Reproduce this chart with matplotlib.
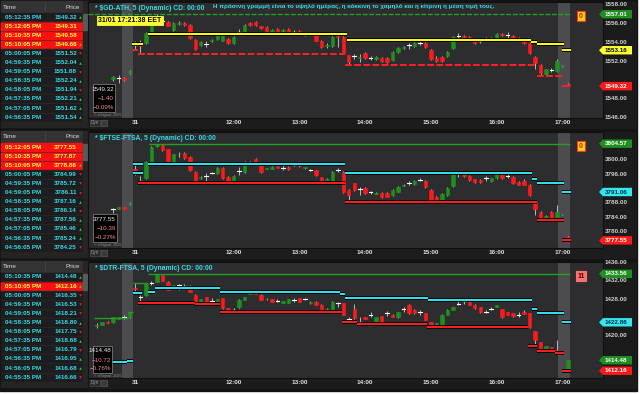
import matplotlib
matplotlib.use("Agg")
import matplotlib.pyplot as plt
from matplotlib.patches import Rectangle, Polygon
import matplotlib.patheffects as pe

W, H = 640, 394
plt.rcParams['font.family'] = ['Liberation Sans Narrow', 'Liberation Sans', 'DejaVu Sans']

# ---------------- data ----------------
# bar index 0 = 10:30 on the 31st, 5 minute bars; negative = previous session
time_ticks = [0, 18, 30, 42, 54, 66, 78]
time_labels = ["31", "12:00", "13:00", "14:00", "15:00", "16:00", "17:00"]

# (open, high, low, close)
gd_start = -4
gd_bars = [
    (1550.1, 1550.4, 1549.9, 1550.3), (1550.2, 1550.5, 1549.7, 1550.2), (1550.2, 1550.3, 1549.9, 1550.0),
    (1550.7, 1551.0, 1550.6, 1550.9), (1553.7, 1554.1, 1553.2, 1553.7), (1553.8, 1554.3, 1552.8, 1553.6),
    (1553.9, 1555.1, 1553.8, 1555.0), (1555.1, 1556.5, 1555.0, 1556.3), (1556.4, 1557.0, 1556.3, 1556.7),
    (1556.3, 1556.6, 1556.0, 1556.3), (1556.2, 1556.3, 1555.7, 1555.8), (1555.3, 1556.2, 1555.2, 1556.1),
    (1556.0, 1556.3, 1555.9, 1556.1), (1556.1, 1556.2, 1555.8, 1555.9), (1555.9, 1556.0, 1554.4, 1554.5),
    (1554.3, 1554.4, 1553.2, 1553.3), (1553.7, 1554.1, 1553.6, 1554.0), (1553.8, 1554.1, 1553.5, 1553.8),
    (1554.1, 1554.4, 1554.0, 1554.3), (1554.4, 1554.9, 1554.3, 1554.8), (1554.2, 1555.0, 1554.1, 1555.0),
    (1554.4, 1554.5, 1553.8, 1553.9), (1553.9, 1554.7, 1553.8, 1554.6), (1555.1, 1555.4, 1554.9, 1555.1),
    (1555.0, 1556.0, 1554.9, 1555.9), (1556.1, 1556.2, 1555.8, 1555.9), (1556.2, 1556.3, 1555.8, 1555.9),
    (1555.7, 1555.8, 1555.4, 1555.5), (1555.6, 1555.7, 1555.0, 1555.1), (1555.1, 1555.4, 1555.0, 1555.3),
    (1555.4, 1555.5, 1555.0, 1555.1), (1555.2, 1555.4, 1555.1, 1555.3), (1555.4, 1555.5, 1555.0, 1555.1),
    (1555.1, 1555.3, 1554.9, 1555.1), (1555.2, 1555.3, 1554.8, 1554.9), (1554.8, 1555.1, 1554.7, 1555.0),
    (1554.9, 1555.1, 1554.8, 1554.9), (1554.8, 1554.9, 1554.1, 1554.2), (1554.2, 1554.3, 1553.4, 1553.5),
    (1553.6, 1553.9, 1553.4, 1553.7), (1553.6, 1554.7, 1553.5, 1554.6), (1554.7, 1554.8, 1553.5, 1554.6),
    (1554.6, 1554.7, 1552.8, 1552.9), (1552.6, 1552.7, 1551.6, 1551.9), (1552.5, 1552.8, 1552.2, 1552.5),
    (1552.3, 1552.8, 1551.9, 1552.4), (1552.9, 1553.0, 1552.2, 1552.3), (1552.3, 1552.5, 1552.1, 1552.3),
    (1552.2, 1552.5, 1552.1, 1552.4), (1552.3, 1552.4, 1551.9, 1552.0), (1552.3, 1552.4, 1551.8, 1551.9),
    (1552.1, 1553.1, 1552.0, 1553.0), (1553.0, 1553.5, 1552.9, 1553.4), (1553.4, 1553.6, 1553.3, 1553.5),
    (1553.7, 1553.9, 1553.3, 1553.7), (1553.6, 1554.0, 1553.5, 1553.9), (1553.9, 1554.1, 1553.7, 1553.9),
    (1553.9, 1554.0, 1553.4, 1553.5), (1553.2, 1553.3, 1552.1, 1552.2), (1552.3, 1552.5, 1551.9, 1552.0),
    (1552.4, 1552.5, 1551.9, 1552.0), (1552.5, 1553.1, 1552.4, 1553.0), (1553.4, 1554.7, 1553.3, 1554.6),
    (1554.7, 1555.0, 1554.5, 1554.7), (1554.7, 1554.8, 1554.5, 1554.6), (1554.6, 1554.7, 1554.1, 1554.2),
    (1554.1, 1554.2, 1553.8, 1553.9), (1554.1, 1554.3, 1553.9, 1554.1), (1554.4, 1554.6, 1554.2, 1554.4),
    (1554.2, 1554.6, 1554.1, 1554.5), (1554.5, 1555.0, 1554.4, 1554.9), (1554.9, 1555.0, 1554.7, 1554.8),
    (1554.8, 1555.1, 1554.5, 1554.8), (1554.7, 1554.8, 1554.1, 1554.2), (1554.5, 1554.6, 1554.2, 1554.3),
    (1554.4, 1554.5, 1553.8, 1553.9), (1553.9, 1554.0, 1552.8, 1552.9), (1552.4, 1552.5, 1551.1, 1551.8),
    (1551.6, 1551.7, 1550.5, 1550.7), (1550.6, 1551.2, 1550.5, 1551.1), (1551.0, 1551.3, 1550.8, 1551.0),
    (1550.9, 1552.2, 1550.8, 1552.0), (1551.45, 1551.6, 1551.4, 1551.55), (1549.6, 1549.65, 1549.3, 1549.32),
]

ftse_start = -4
ftse_bars = [
    (3786.3, 3786.6, 3785.2, 3786.3), (3786.4, 3787.0, 3786.2, 3786.9), (3786.9, 3787.0, 3786.2, 3786.4),
    (3787.6, 3788.4, 3787.4, 3788.1), (3797.5, 3799.0, 3795.8, 3796.5), (3794.5, 3795.5, 3793.5, 3794.3),
    (3795.0, 3799.6, 3794.8, 3799.4), (3799.4, 3804.0, 3799.2, 3803.6), (3803.9, 3804.57, 3803.7, 3804.3),
    (3804.3, 3804.5, 3802.6, 3802.8), (3803.0, 3803.2, 3799.2, 3799.4), (3799.4, 3801.8, 3799.2, 3801.6),
    (3801.6, 3802.2, 3800.8, 3801.8), (3801.9, 3802.1, 3800.4, 3800.6), (3800.8, 3801.0, 3797.0, 3797.2),
    (3796.6, 3796.8, 3793.7, 3793.9), (3795.0, 3795.5, 3794.8, 3795.3), (3795.5, 3796.4, 3794.0, 3795.5),
    (3796.4, 3796.6, 3796.2, 3796.4), (3796.4, 3798.0, 3796.2, 3797.8), (3797.9, 3798.1, 3794.8, 3795.0),
    (3795.2, 3795.4, 3793.7, 3793.9), (3793.7, 3795.7, 3793.6, 3795.5), (3797.0, 3798.0, 3795.8, 3797.0),
    (3796.6, 3799.6, 3796.4, 3799.4), (3799.2, 3799.7, 3798.8, 3799.2), (3800.3, 3800.5, 3798.7, 3798.9),
    (3798.6, 3798.8, 3796.5, 3796.7), (3797.6, 3797.9, 3797.4, 3797.8), (3797.5, 3798.3, 3797.4, 3798.1),
    (3798.2, 3798.3, 3797.7, 3797.9), (3797.9, 3798.5, 3797.2, 3797.9), (3798.1, 3798.2, 3797.3, 3797.5),
    (3798.6, 3798.8, 3798.4, 3798.6), (3798.9, 3799.2, 3798.0, 3798.2), (3797.8, 3798.1, 3797.6, 3798.0),
    (3797.3, 3797.6, 3796.8, 3797.3), (3797.2, 3797.3, 3795.6, 3795.8), (3795.2, 3795.3, 3794.2, 3794.4),
    (3794.5, 3794.9, 3794.3, 3794.8), (3793.9, 3796.8, 3793.8, 3796.6), (3797.2, 3797.8, 3796.6, 3797.2),
    (3796.6, 3796.8, 3790.9, 3791.1), (3791.6, 3791.8, 3788.3, 3790.2), (3793.5, 3793.7, 3791.4, 3791.6),
    (3791.8, 3792.5, 3790.2, 3791.8), (3792.2, 3792.4, 3790.6, 3790.8), (3791.0, 3791.4, 3790.4, 3791.0),
    (3790.6, 3791.0, 3790.4, 3790.9), (3790.8, 3791.0, 3789.5, 3789.7), (3790.8, 3791.0, 3789.6, 3789.8),
    (3790.2, 3791.8, 3790.0, 3791.6), (3791.1, 3792.7, 3791.0, 3792.5), (3792.8, 3793.3, 3792.6, 3793.1),
    (3793.5, 3794.0, 3793.0, 3793.5), (3793.3, 3794.3, 3793.1, 3794.1), (3794.5, 3795.0, 3794.0, 3794.5),
    (3794.1, 3794.3, 3792.3, 3792.5), (3791.6, 3791.8, 3788.1, 3788.3), (3789.7, 3789.9, 3788.4, 3788.6),
    (3788.3, 3790.7, 3788.1, 3790.5), (3790.2, 3792.4, 3790.0, 3792.2), (3792.7, 3796.6, 3792.5, 3796.4),
    (3796.4, 3796.9, 3795.2, 3796.4), (3796.0, 3796.2, 3795.3, 3795.5), (3795.5, 3795.7, 3794.2, 3794.4),
    (3794.6, 3794.8, 3793.7, 3793.9), (3794.4, 3794.6, 3793.7, 3793.9), (3795.0, 3795.5, 3794.0, 3795.0),
    (3794.0, 3795.1, 3793.8, 3794.9), (3795.0, 3796.8, 3794.8, 3796.6), (3796.4, 3796.6, 3794.8, 3795.0),
    (3795.5, 3796.2, 3795.0, 3795.5), (3795.2, 3795.4, 3793.3, 3793.5), (3793.8, 3794.0, 3792.9, 3793.1),
    (3794.0, 3794.6, 3792.9, 3793.1), (3793.0, 3793.2, 3790.0, 3790.2), (3788.3, 3788.5, 3784.6, 3786.3),
    (3785.5, 3785.7, 3783.15, 3783.2), (3783.3, 3784.6, 3783.15, 3784.4), (3785.5, 3785.7, 3783.6, 3783.8),
    (3783.5, 3787.4, 3783.3, 3785.5), (3784.8, 3785.0, 3784.7, 3784.95), (3778.6, 3778.7, 3777.5, 3777.55),
]

dtr_start = -7
dtr_bars = [
    (1422.0, 1422.6, 1421.7, 1422.3), (1422.3, 1423.0, 1422.2, 1422.9), (1423.0, 1423.1, 1422.6, 1422.8),
    (1422.9, 1424.1, 1422.8, 1424.0), (1423.6, 1424.1, 1423.5, 1424.0), (1424.1, 1424.4, 1423.6, 1424.1),
    (1424.0, 1425.2, 1423.9, 1425.1), (1430.5, 1431.5, 1429.3, 1430.3), (1428.5, 1428.9, 1427.1, 1428.5),
    (1428.8, 1431.6, 1428.7, 1431.4), (1431.6, 1432.0, 1431.1, 1431.6), (1431.8, 1433.56, 1431.7, 1433.3),
    (1433.3, 1433.4, 1431.9, 1432.0), (1431.8, 1431.9, 1429.9, 1430.0), (1430.8, 1431.2, 1430.7, 1431.1),
    (1431.0, 1431.3, 1430.0, 1431.0), (1430.9, 1431.3, 1430.2, 1430.9), (1430.9, 1431.0, 1429.5, 1429.6),
    (1428.9, 1429.0, 1427.0, 1427.1), (1427.4, 1428.1, 1427.3, 1428.0), (1428.4, 1428.5, 1427.3, 1427.4),
    (1427.6, 1428.2, 1427.2, 1427.6), (1427.6, 1428.0, 1427.5, 1427.9), (1428.2, 1428.3, 1425.9, 1426.0),
    (1426.0, 1426.1, 1425.2, 1425.4), (1425.6, 1426.0, 1425.2, 1425.6), (1426.2, 1427.9, 1426.1, 1427.8),
    (1427.8, 1428.5, 1427.7, 1428.4), (1429.1, 1429.9, 1429.0, 1429.8), (1429.8, 1429.9, 1429.0, 1429.1),
    (1428.9, 1429.0, 1427.7, 1427.8), (1427.9, 1428.2, 1427.8, 1428.1), (1428.0, 1428.1, 1427.3, 1427.4),
    (1427.6, 1428.0, 1427.3, 1427.6), (1427.2, 1427.6, 1427.1, 1427.5), (1427.2, 1428.0, 1427.1, 1427.9),
    (1427.8, 1428.2, 1427.4, 1427.8), (1428.2, 1428.3, 1427.3, 1427.4), (1428.0, 1428.2, 1427.8, 1428.0),
    (1427.1, 1427.5, 1427.0, 1427.4), (1427.4, 1427.5, 1426.6, 1426.7), (1426.7, 1426.8, 1425.5, 1425.6),
    (1425.6, 1426.0, 1425.5, 1425.9), (1425.6, 1427.5, 1425.5, 1427.4), (1427.2, 1427.4, 1426.2, 1427.2),
    (1427.1, 1427.2, 1424.4, 1424.5), (1423.5, 1424.0, 1422.9, 1423.5), (1425.8, 1427.0, 1423.6, 1423.8),
    (1422.9, 1424.0, 1422.7, 1422.9), (1424.0, 1424.1, 1423.5, 1423.6), (1424.5, 1425.1, 1424.0, 1424.5),
    (1423.0, 1424.1, 1422.9, 1424.0), (1424.2, 1424.3, 1422.9, 1423.0), (1424.9, 1425.3, 1424.3, 1424.9),
    (1424.5, 1424.6, 1424.0, 1424.1), (1424.0, 1425.2, 1423.9, 1425.1), (1425.8, 1426.3, 1425.1, 1425.8),
    (1426.7, 1426.8, 1424.8, 1424.9), (1425.6, 1425.7, 1424.8, 1424.9), (1425.2, 1425.6, 1424.5, 1425.2),
    (1424.9, 1425.0, 1423.3, 1423.4), (1422.9, 1423.0, 1421.9, 1422.3), (1422.5, 1422.8, 1422.4, 1422.7),
    (1422.3, 1424.6, 1421.9, 1424.5), (1424.5, 1425.7, 1424.4, 1425.6), (1425.6, 1426.3, 1425.5, 1426.2),
    (1427.0, 1427.8, 1426.7, 1427.0), (1427.6, 1428.0, 1426.9, 1427.6), (1427.6, 1427.8, 1426.6, 1426.7),
    (1426.7, 1426.8, 1425.9, 1426.0), (1426.2, 1426.3, 1425.0, 1425.1), (1425.1, 1425.6, 1424.9, 1425.1),
    (1425.9, 1426.2, 1425.6, 1425.9), (1426.3, 1426.7, 1426.2, 1426.6), (1425.8, 1425.9, 1423.9, 1424.0),
    (1425.1, 1425.2, 1424.4, 1424.5), (1424.9, 1425.0, 1424.1, 1424.2), (1424.5, 1425.1, 1424.0, 1424.5),
    (1425.1, 1425.6, 1424.6, 1424.7), (1424.9, 1425.0, 1421.7, 1421.8), (1420.9, 1421.0, 1417.6, 1419.0),
    (1418.5, 1418.6, 1416.2, 1416.3), (1416.5, 1417.7, 1416.4, 1417.6), (1417.4, 1417.5, 1416.2, 1416.3),
    (1416.7, 1419.0, 1416.3, 1416.5), (1416.5, 1416.6, 1416.1, 1416.2), (1412.4, 1414.5, 1412.16, 1414.48),
]

# step lines: (from bar, to bar, level)
gd_high = [(-8.6, 79.4, 1557.04)]
gd_mid = [(-0.5, 1.4, 1553.8), (2.4, 38.6, 1554.9), (38.6, 72.3, 1554.26), (72.3, 73.4, 1554.07),
          (73.4, 78.2, 1553.8), (78.0, 79.5, 1553.16)]
gd_low = [(-0.3, 0.6, 1553.2), (0.6, 38.3, 1552.76), (38.3, 73.3, 1551.58), (73.3, 78.2, 1550.4),
          (78.0, 79.5, 1549.32)]

ftse_high = [(2.5, 79.4, 3804.57)]
ftse_mid = [(-0.3, 1.4, 3798.9), (-0.3, 1.4, 3796.5), (2.4, 38.3, 3799.0), (38.3, 72.4, 3796.45),
            (72.4, 73.4, 3794.6), (73.4, 78.2, 3793.66), (78.0, 79.5, 3791.06)]
ftse_low = [(0.5, 38.3, 3793.5), (38.3, 73.3, 3788.3), (73.3, 78.2, 3783.15), (78.0, 79.5, 3777.55)]

dtr_high = [(-7.5, -1.2, 1423.7), (-1.2, -0.3, 1425.1), (-0.3, 2.4, 1431.6), (2.4, 79.4, 1433.56)]
dtr_mid = [(-7.5, -1.5, 1414.0), (-1.5, -0.3, 1414.3), (-0.3, 1.2, 1429.3), (2.4, 3.6, 1429.5),
           (3.6, 15.5, 1430.4), (15.5, 37.4, 1429.5), (37.4, 38.3, 1429.0), (38.3, 53.5, 1428.15),
           (53.5, 72.4, 1427.8), (72.4, 73.4, 1425.7), (73.4, 78.2, 1425.0), (78.0, 79.5, 1422.86)]
dtr_low = [(0.5, 11.0, 1427.05), (11.0, 15.5, 1426.8), (15.5, 37.8, 1425.2), (37.8, 40.5, 1423.0),
           (40.5, 53.3, 1422.5), (53.3, 71.7, 1421.9), (71.7, 73.4, 1417.6), (73.4, 76.6, 1416.6),
           (76.6, 78.2, 1416.15), (78.0, 79.5, 1412.16)]

# price scales (visible range) and tick levels
gd_ylim = (1545.91, 1558.32)
ftse_ylim = (3775.42, 3807.82)
dtr_ylim = (1410.56, 1436.17)
gd_yticks = [1558, 1556, 1554, 1552, 1550, 1548, 1546]
ftse_yticks = [3804, 3800, 3796, 3792, 3788, 3784, 3780, 3776]
dtr_yticks = [1436, 1432, 1428, 1424, 1420, 1416]

# price tags on the right axis: (price, face, text colour)
gd_tags = [(1557.01, '#1f8f1f', 'white'), (1553.16, '#ffff33', 'black'), (1549.32, '#ff1a1a', 'white')]
ftse_tags = [(3804.57, '#1f8f1f', 'white'), (3791.06, '#33e6ef', '#003040'), (3777.55, '#ff1a1a', 'white')]
dtr_tags = [(1433.56, '#1f8f1f', 'white'), (1422.86, '#33e6ef', '#003040'), (1414.48, '#1f8f1f', 'white'),
            (1412.16, '#ff1a1a', 'white')]

gd_info = ["1549.32", "\u22121.40", "\u22120.09%"]
ftse_info = ["3777.55", "\u221210.39", "\u22120.27%"]
dtr_info = ["1414.48", "\u221210.72", "\u22120.76%"]

gd_tbl_times = ["05:12:35 PM", "05:12:05 PM", "05:10:35 PM", "05:10:05 PM", "05:00:05 PM", "04:59:35 PM",
                "04:59:05 PM", "04:58:35 PM", "04:58:05 PM", "04:57:35 PM", "04:57:05 PM", "04:56:35 PM"]
gd_tbl_prices = ["1549.32", "1549.31", "1549.58", "1549.66", "1551.52", "1552.04",
                 "1551.88", "1552.24", "1551.94", "1552.21", "1551.62", "1551.54"]
gd_tbl_dirs = [1, 0, 0, 1, -1, 1, -1, 1, -1, 1, 1, 1]
gd_tbl_hl = [1, 2, 3]

ftse_tbl_times = ["05:12:05 PM", "05:10:35 PM", "05:10:05 PM", "05:00:05 PM", "04:59:35 PM", "04:59:05 PM",
                  "04:58:35 PM", "04:58:05 PM", "04:57:35 PM", "04:57:05 PM", "04:56:35 PM", "04:56:05 PM"]
ftse_tbl_prices = ["3777.55", "3777.87", "3778.86", "3784.99", "3785.72", "3786.11",
                   "3787.16", "3786.14", "3787.56", "3785.46", "3785.24", "3784.25"]
ftse_tbl_dirs = [0, 0, 1, -1, -1, -1, 1, -1, 1, 1, 1, -1]
ftse_tbl_hl = [0, 1, 2]

dtr_tbl_times = ["05:10:35 PM", "05:10:05 PM", "05:00:05 PM", "04:59:35 PM", "04:59:05 PM", "04:58:35 PM",
                 "04:58:05 PM", "04:57:35 PM", "04:57:05 PM", "04:56:35 PM", "04:56:05 PM", "04:55:35 PM"]
dtr_tbl_prices = ["1414.48", "1412.16", "1416.35", "1416.53", "1418.21", "1418.80",
                  "1417.75", "1418.68", "1416.79", "1416.95", "1416.68", "1416.66"]
dtr_tbl_dirs = [1, 1, -1, -1, -1, 1, -1, 1, -1, 1, 1, -1]
dtr_tbl_hl = [1]

note_gr = ("Η πράσινη γραμμή είναι το υψηλό ημέρας, η κόκκινη το χαμηλό "
           "και η κίτρινη η μέση τιμή τους.")

panels = [
    dict(title="* $GD-ATH, 5 (Dynamic) CD: 00:00", start=gd_start, bars=gd_bars,
         high=gd_high, mid=gd_mid, low=gd_low, mid_color='#ffff1a', dashed=True,
         ylim=gd_ylim, yticks=gd_yticks, tags=gd_tags, info=gd_info, count="0",
         times=gd_tbl_times, prices=gd_tbl_prices, dirs=gd_tbl_dirs, hl=gd_tbl_hl),
    dict(title="* $FTSE-FTSA, 5 (Dynamic) CD: 00:00", start=ftse_start, bars=ftse_bars,
         high=ftse_high, mid=ftse_mid, low=ftse_low, mid_color='#2ee8f2', dashed=False,
         ylim=ftse_ylim, yticks=ftse_yticks, tags=ftse_tags, info=ftse_info, count="0",
         times=ftse_tbl_times, prices=ftse_tbl_prices, dirs=ftse_tbl_dirs, hl=ftse_tbl_hl),
    dict(title="* $DTR-FTSA, 5 (Dynamic) CD: 00:00", start=dtr_start, bars=dtr_bars,
         high=dtr_high, mid=dtr_mid, low=dtr_low, mid_color='#2ee8f2', dashed=False,
         ylim=dtr_ylim, yticks=dtr_yticks, tags=dtr_tags, info=dtr_info, count="11",
         times=dtr_tbl_times, prices=dtr_tbl_prices, dirs=dtr_tbl_dirs, hl=dtr_tbl_hl),
]

GREEN = '#1f8f1f'
RED = '#ff1a1a'
CYAN = '#33dde6'
PLOT_BG = '#2d2d30'
BAND = '#4c4c50'

# ---------------- figure ----------------
fig = plt.figure(figsize=(6.4, 3.94), dpi=100, facecolor='white')
bg = fig.add_axes([0, 0, 1, 1])
bg.set_xlim(0, W)
bg.set_ylim(H, 0)
bg.axis('off')
bg.add_patch(Rectangle((0, 0), 637, 391, color='#131313'))


def px_axes(x, y, w, h):
    return fig.add_axes([x / W, 1 - (y + h) / H, w / W, h / H])


def step_lines(ax, segs, color, lw, dashed=False, outline=False):
    for x0, x1, v in segs:
        ln, = ax.plot([x0, x1], [v, v], color=color, lw=lw, zorder=5,
                      ls=(0, (3.5, 1.2)) if dashed else '-', solid_capstyle='butt')
        if outline:
            ln.set_path_effects([pe.Stroke(linewidth=lw + 1.3, foreground='black'), pe.Normal()])


overlay_items = []

for r, p in enumerate(panels):
    y0 = 130 * r
    top = y0 + 2

    # ---- left time & sales table ----
    bg.add_patch(Rectangle((1, y0 + 1), 87, 126, color='#1a1a1a'))
    bg.add_patch(Rectangle((1, y0 + 1), 81, 11, color='#333335'))
    bg.plot([45, 45], [y0 + 2, y0 + 11], color='#4a4a4a', lw=0.5)
    bg.text(3, y0 + 7, "Time", color='#d8d8d8', fontsize=4.6, va='center')
    bg.text(80, y0 + 7, "Price", color='#d8d8d8', fontsize=4.6, va='center', ha='right')
    for k, (t, pr, d) in enumerate(zip(p['times'], p['prices'], p['dirs'])):
        yc = y0 + 17 + 9.1 * k
        if yc > y0 + 122:
            break
        hl = k in p['hl']
        bg.add_patch(Rectangle((1, yc - 4.4), 81, 8.8, color='#ff1010' if hl else '#1d1d1f'))
        bg.plot([1, 82], [yc + 4.5, yc + 4.5], color='#2c2c2c', lw=0.4)
        tc = '#ffff50' if hl else CYAN
        bg.text(5, yc, t, color=tc, fontsize=4.5, va='center', fontweight='bold')
        bg.text(77, yc, pr, color=tc, fontsize=4.5, va='center', ha='right', fontweight='bold')
        if d:
            bg.plot(79.5, yc, marker='^' if d > 0 else 'v', ms=1.8, mew=0,
                    color='#22dd22' if d > 0 else '#ff2222')
    # scrollbar
    bg.add_patch(Rectangle((82.5, y0 + 1), 5, 125, color='#262626'))
    bg.add_patch(Rectangle((83, y0 + 14), 4, 16, color='#5a5a5a'))
    bg.add_patch(Rectangle((1, y0 + 123), 87, 4, color='#242424'))

    # ---- time axis strip and price axis background ----
    bg.add_patch(Rectangle((88, y0 + 118), 548, 10, color='#1c1c1c'))
    bg.add_patch(Rectangle((603, top), 33, 116, color='#1b1b1b'))
    bg.add_patch(Rectangle((90, y0 + 119.5), 10, 6.5, fc='#2a2a2a', ec='#555555', lw=0.4))
    bg.text(95, y0 + 122.8, "Dyn", color='#9a9a9a', fontsize=3.3, ha='center', va='center')
    bg.add_patch(Rectangle((101, y0 + 119.5), 6, 6.5, fc='#3a3a3a', ec='#666666', lw=0.4))

    # ---- candle chart ----
    ax = px_axes(88, top, 515, 116)
    ax.set_facecolor(PLOT_BG)
    ax.set_xlim(-8.58, 85.4)
    ax.set_ylim(*p['ylim'])
    ax.set_xticks([])
    ax.set_yticks([])
    for s in ax.spines.values():
        s.set_color('#101010')
        s.set_linewidth(0.8)
    ax.axvspan(-2.37, -0.36, color=BAND, zorder=0, lw=0)
    ax.axvspan(77.2, 79.4, color=BAND, zorder=0, lw=0)

    for k, (o, hi, lo, c) in enumerate(p['bars']):
        i = p['start'] + k
        ax.plot([i, i], [lo, hi], color='#d0d0d0', lw=0.6, zorder=3, solid_capstyle='butt')
        if c == o:
            ax.plot([i - 0.33, i + 0.33], [o, o], color='white', lw=0.8, zorder=4)
            continue
        col = GREEN if c > o else RED
        ax.bar(i, c - o, bottom=o, width=0.62, color=col, edgecolor=col, lw=0.4, zorder=4)

    step_lines(ax, p['high'], '#22a022', 1.0, dashed=p['dashed'])
    step_lines(ax, p['mid'], p['mid_color'], 1.4, outline=True)
    step_lines(ax, p['low'], '#ff2020', 1.4, dashed=p['dashed'], outline=not p['dashed'])

    for t, lab in zip(time_ticks, time_labels):
        ax.text(t, -0.042, lab, transform=ax.get_xaxis_transform(), ha='center', va='center',
                color='#dedede', fontsize=4.6, fontweight='bold', clip_on=False)

    ax.text(7 / 515, 1 - 6 / 116, p['title'], transform=ax.transAxes, color=CYAN,
            fontsize=4.9, fontweight='bold', va='center', ha='left', zorder=8)

    # count box
    ax.text(1 - 22 / 515, 1 - 14 / 116, p['count'], transform=ax.transAxes, ha='center', va='center',
            fontsize=5, fontweight='bold', color='#c02000' if p['count'] == "0" else '#4a0000', zorder=8,
            bbox=dict(boxstyle='square,pad=0.25', fc='#ffd21a' if p['count'] == "0" else '#ff7070',
                      ec='#ff3a1a' if p['count'] == "0" else '#ff7070', lw=0.8))

    # ---- price axis ----
    pax = px_axes(603, top, 33, 116)
    pax.set_xlim(0, 33)
    pax.set_ylim(*p['ylim'])
    pax.axis('off')
    px_per_price = 116 / (p['ylim'][1] - p['ylim'][0])
    for v in p['yticks']:
        # labels sitting under a price tag are hidden, as in the platform
        if min(abs(v - tv) for tv, _, _ in p['tags']) * px_per_price < 7:
            continue
        pax.text(2, v, f"{v:.2f}", color='#cfcfcf', fontsize=4.5, va='center', fontweight='bold')
    hh = 4.2 / px_per_price
    for v, fc, tc in p['tags']:
        pax.add_patch(Polygon([(-4, v), (0, v + hh), (29, v + hh), (29, v - hh), (0, v - hh)],
                              closed=True, fc=fc, ec='none', clip_on=False, zorder=6))
        pax.text(2, v, f"{v:.2f}", color=tc, fontsize=4.5, va='center', fontweight='bold', zorder=7)

    overlay_items.append((r, y0, p['info']))

# ---- overlay (drawn above the chart axes) ----
ov = fig.add_axes([0, 0, 1, 1])
ov.set_xlim(0, W)
ov.set_ylim(H, 0)
ov.axis('off')
ov.patch.set_alpha(0)

for r, y0, info in overlay_items:
    bx0, by0 = 93, y0 + [84, 84, 86][r]
    bh = [28, 28, 27][r]
    bw = [22, 24, 19][r]
    ov.add_patch(Rectangle((bx0, by0), bw, bh, fc='black', ec='#8a8a8a', lw=0.5))
    for j, s in enumerate(info):
        ov.text(bx0 + bw - 1, by0 + 5 + 9 * j, s, ha='right', va='center', fontsize=4.5,
                color='#f0f0f0' if j == 0 else '#ff8a8a')
    ov.text(94, by0 + bh + 2.5, "\u00a9 eSignal, 2025", color='#8a8a8a', fontsize=2.8, va='center')

ov.text(213, 6, note_gr, color=CYAN, fontsize=4.5, va='center', fontweight='bold')
ov.text(130, 20.5, "31/01 17:21:38 EET", color='black', fontsize=5, fontweight='bold',
        ha='center', va='center',
        bbox=dict(boxstyle='square,pad=0.2', fc='#ffff33', ec='#ffff33', lw=0.6))

fig.savefig("out.png", dpi=100, facecolor='white')
